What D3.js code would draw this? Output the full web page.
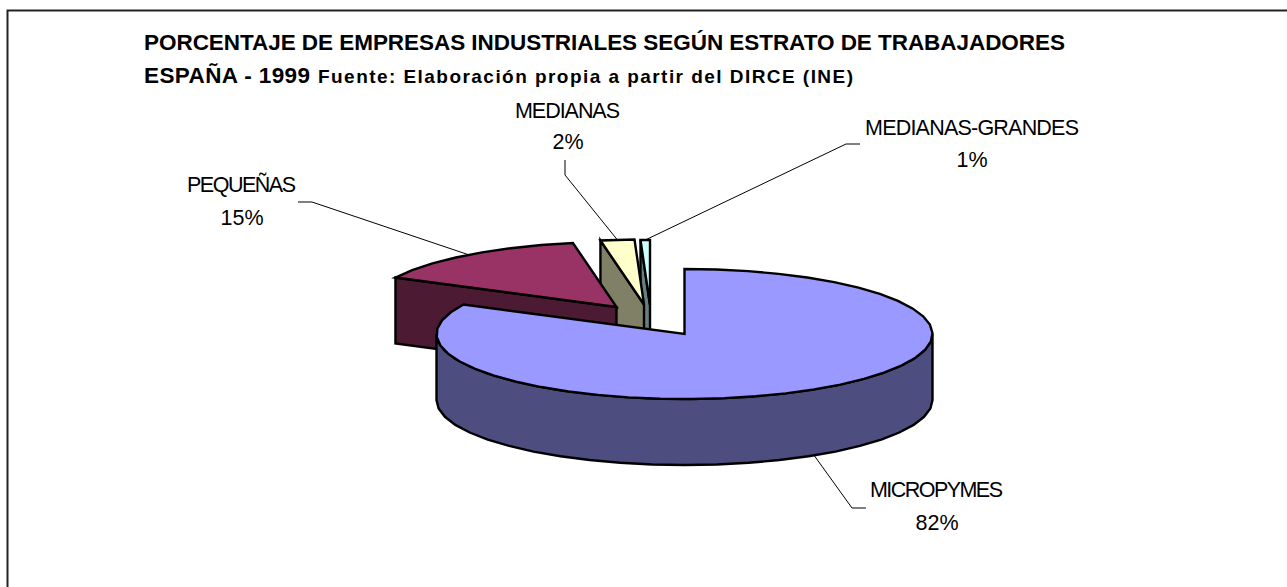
<!DOCTYPE html>
<html>
<head>
<meta charset="utf-8">
<script src="https://cdn.jsdelivr.net/npm/d3@7"></script>
<style>
  html, body { margin: 0; background: #fff; }
  svg { display: block; font-family: "Liberation Sans", Arial, sans-serif; }
</style>
</head>
<body>
<svg></svg>
<script>
var width = 1287;
var height = 587;

// chart data
var categories = ["MICROPYMES", "PEQUEÑAS", "MEDIANAS", "MEDIANAS-GRANDES"];
var shares = [82.49, 14.7, 2.2, 0.61];
var topColors = ["#9999ff", "#993366", "#ffffcc", "#ccffff"];
var sideColors = ["#4d4d80", "#4d1a33", "#808066", "#668080"];

var titleLine1 = "PORCENTAJE DE EMPRESAS INDUSTRIALES SEGÚN ESTRATO DE TRABAJADORES";
var titleLine2 = "ESPAÑA - 1999";
var titleSource = "Fuente: Elaboración propia a partir del DIRCE (INE)";

// where each slice's tip sits once exploded
var tipX = [684.5, 616.5, 644, 650];
var tipY = [334, 307, 304.5, 305];

// label placement: text box left, name baseline, percent baseline, name width
var labelLeft = [870, 187, 515, 865];
var labelNameY = [497, 192, 118, 135];
var labelPctY = [530, 225, 149, 167];
var labelPctX = [937, 242, 568, 972];
var labelNameW = [133, 109, 105, 214];
// leader line: far end, elbow
var leaderEndX = [866, 298, 565, 860];
var leaderEndY = [508, 202, 160, 144];
var leaderElbowX = [852, 312, 565, 846];
var leaderElbowY = [508, 202, 175, 144];

var rx = 248;
var ry = 65;
var depth = 66;
var stepDeg = 7.5; // the outline is a bit faceted in the original

var svg = d3.select("svg").attr("width", width).attr("height", height);

// frame, runs off the right and bottom of the picture
svg.append("path")
    .attr("d", `M${width + 5} 10.5 L7.5 10.5 L7.5 ${height + 5}`)
    .attr("fill", "none")
    .attr("stroke", "#222")
    .attr("stroke-width", 2);

// title
svg.append("text")
    .attr("x", 144).attr("y", 50)
    .attr("font-size", 22.5).attr("font-weight", "bold")
    .attr("textLength", 921).attr("lengthAdjust", "spacing")
    .text(titleLine1);
svg.append("text")
    .attr("x", 144).attr("y", 83)
    .attr("font-size", 22.5).attr("font-weight", "bold")
    .attr("textLength", 166).attr("lengthAdjust", "spacing")
    .text(titleLine2);
svg.append("text")
    .attr("x", 318).attr("y", 83)
    .attr("font-size", 19).attr("font-weight", "bold")
    .attr("textLength", 535).attr("lengthAdjust", "spacing")
    .text(titleSource);

// angles: 0 is 12 o'clock, clockwise
var pie = d3.pie().sort(null).value(d => d);
var slices = pie(shares);

var line = d3.line();

function project(i, angle, down) {
    return [
        tipX[i] + rx * Math.sin(angle),
        tipY[i] - ry * Math.cos(angle) + (down || 0)
    ];
}

function arcPoints(i, a0, a1, down) {
    var n = Math.max(1, Math.round((a1 - a0) * 180 / Math.PI / stepDeg));
    return d3.range(n + 1).map(k => project(i, a0 + (a1 - a0) * k / n, down));
}

var chart = svg.append("g")
    .attr("stroke", "#000")
    .attr("stroke-width", 2.4)
    .attr("stroke-linejoin", "miter");

// back slices first, micropymes goes on top of everything
[3, 2, 1, 0].forEach(function(i) {
    var s = slices[i];
    if (i === 0) {
        // front wall, quarter past to quarter to
        var a0 = Math.PI / 2, a1 = 3 * Math.PI / 2;
        var wall = arcPoints(i, a0, a1, 0).concat(arcPoints(i, a0, a1, depth).reverse());
        chart.append("path")
            .attr("d", line(wall) + "Z")
            .attr("fill", sideColors[i]);
    } else {
        // cut face on the left side of the slice
        var face = [
            project(i, s.startAngle),
            [tipX[i], tipY[i]],
            [tipX[i], tipY[i] + depth],
            project(i, s.startAngle, depth)
        ];
        chart.append("path")
            .attr("d", line(face) + "Z")
            .attr("fill", sideColors[i]);
    }
    var top = [[tipX[i], tipY[i]]].concat(arcPoints(i, s.startAngle, s.endAngle, 0));
    chart.append("path")
        .attr("d", line(top) + "Z")
        .attr("fill", topColors[i]);
});

// leaders and labels
categories.forEach(function(name, i) {
    var mid = (slices[i].startAngle + slices[i].endAngle) / 2;
    // micropymes leader leaves from the bottom of the wall
    var start = project(i, mid, i === 0 ? depth : 0);
    svg.append("path")
        .attr("d", line([[leaderEndX[i], leaderEndY[i]], [leaderElbowX[i], leaderElbowY[i]], start]))
        .attr("fill", "none")
        .attr("stroke", "#000")
        .attr("stroke-width", 1);

    svg.append("text")
        .attr("x", labelLeft[i]).attr("y", labelNameY[i])
        .attr("font-size", 21.5)
        .attr("textLength", labelNameW[i]).attr("lengthAdjust", "spacing")
        .text(name);
    svg.append("text")
        .attr("x", labelPctX[i]).attr("y", labelPctY[i])
        .attr("font-size", 21.5)
        .attr("text-anchor", "middle")
        .text(Math.round(shares[i]) + "%");
});
</script>
</body>
</html>
